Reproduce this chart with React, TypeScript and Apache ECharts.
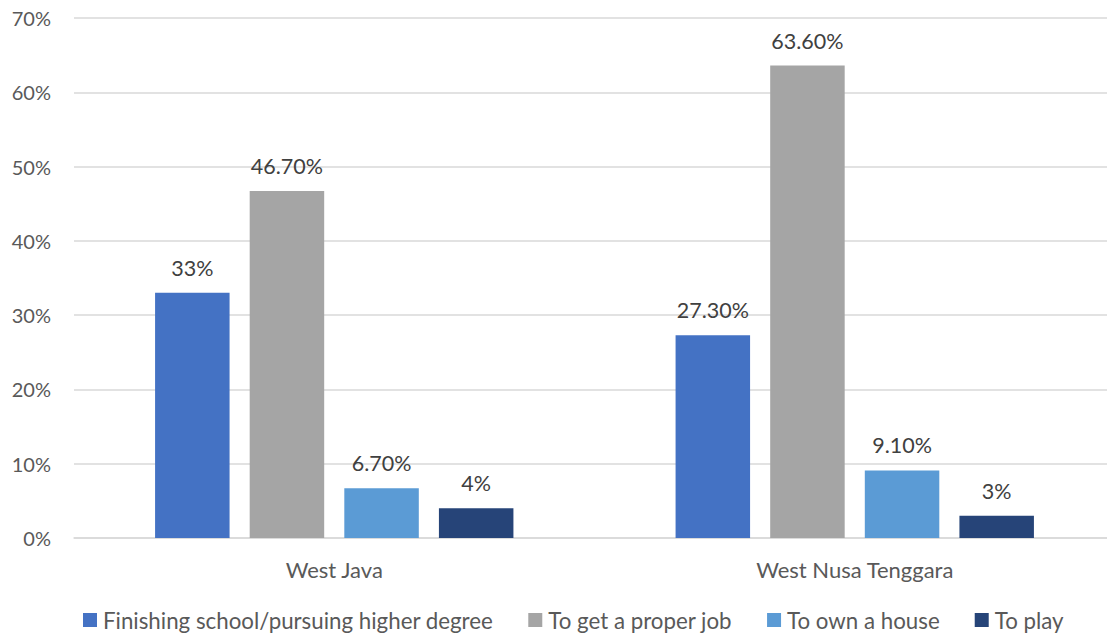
import React, { useEffect, useRef } from "react";
import * as echarts from "echarts";

const regions = ["West Java", "West Nusa Tenggara"];
const seriesNames = [
  "Finishing school/pursuing higher degree",
  "To get a proper job",
  "To own a house",
  "To play",
];
const schoolValues = [33, 27.3];
const jobValues = [46.7, 63.6];
const houseValues = [6.7, 9.1];
const playValues = [4, 3];
const schoolLabels = ["33%", "27.30%"];
const jobLabels = ["46.70%", "63.60%"];
const houseLabels = ["6.70%", "9.10%"];
const playLabels = ["4%", "3%"];
const colors = ["#4472C4", "#A5A5A5", "#5B9BD5", "#264478"];

const FONT = "Lato, 'Noto Sans', sans-serif";

export default function App() {
  const ref = useRef<HTMLDivElement>(null);

  useEffect(() => {
    if (!ref.current) return;
    const chart = echarts.init(ref.current, undefined, { renderer: "svg" });

    const valueSets = [schoolValues, jobValues, houseValues, playValues];
    const labelSets = [schoolLabels, jobLabels, houseLabels, playLabels];

    chart.setOption({
      animation: false,
      color: colors,
      textStyle: { fontFamily: FONT },
      // the plot runs past the right edge of the visible frame
      grid: { left: 74, right: 0, top: 18, bottom: 99, containLabel: false },
      legend: {
        left: 83,
        top: 609,
        padding: 0,
        itemWidth: 14,
        itemHeight: 14,
        itemGap: 35,
        icon: "rect",
        textStyle: { fontFamily: FONT, fontSize: 22.3, color: "#595959", padding: [0, 0, 0, 1] },
        data: seriesNames,
      },
      xAxis: {
        type: "category",
        data: regions,
        axisLine: { lineStyle: { color: "#d9d9d9", width: 1.5 } },
        axisTick: { show: false },
        axisLabel: { fontFamily: FONT, fontSize: 22, color: "#595959", margin: 20 },
      },
      yAxis: {
        type: "value",
        min: 0,
        max: 70,
        interval: 10,
        axisLine: { show: false },
        axisTick: { show: false },
        splitLine: { lineStyle: { color: "#d9d9d9", width: 1.5 } },
        axisLabel: {
          fontFamily: FONT,
          fontSize: 20,
          color: "#595959",
          margin: 23,
          formatter: (v: number) => `${v}%`,
        },
      },
      series: seriesNames.map((name, i) => ({
        name,
        type: "bar",
        barWidth: 74.5,
        barGap: "27%",
        data: valueSets[i].map((v, j) => ({
          value: v,
          label: { formatter: labelSets[i][j] },
        })),
        label: {
          show: true,
          position: "top",
          distance: 14,
          fontFamily: FONT,
          fontSize: 21.5,
          color: "#404040",
        },
      })),
    });

    return () => chart.dispose();
  }, []);

  return (
    <div
      style={{
        position: "fixed",
        left: 0,
        top: 0,
        width: 1107,
        height: 637,
        overflow: "hidden",
        background: "#fff",
      }}
    >
      <div ref={ref} style={{ width: 1115, height: 637 }} />
    </div>
  );
}
